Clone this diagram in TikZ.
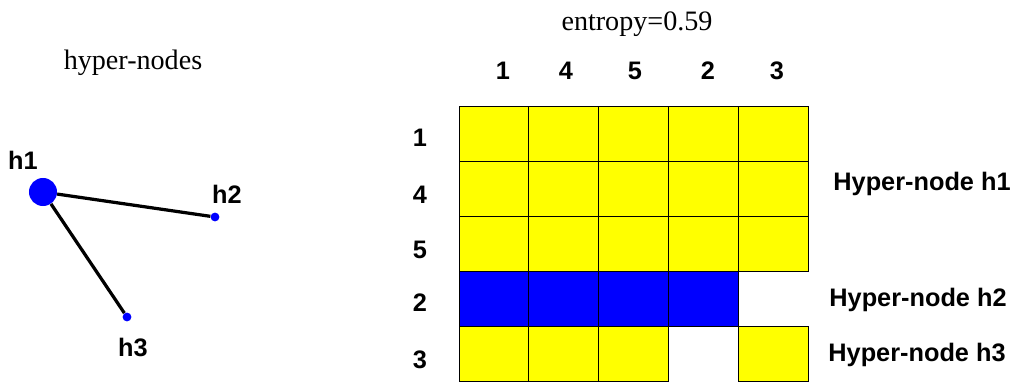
\documentclass[tikz,border=0pt]{standalone}
\usepackage{fontspec}
\setmainfont{Liberation Serif}
\setsansfont{Liberation Sans}
\usetikzlibrary{positioning}
\definecolor{cellyellow}{HTML}{FFFF00}
\definecolor{nodeblue}{HTML}{0000FF}

\begin{document}
\begin{tikzpicture}[x=0.025cm,y=-0.025cm,
  hub/.style={circle,fill=nodeblue,inner sep=0pt,minimum size=0.7cm},
  leaf/.style={circle,fill=nodeblue,inner sep=0pt,minimum size=0.22cm},
  lbl/.style={font=\sffamily\bfseries\fontsize{18}{21}\selectfont,inner sep=0pt},
  ttl/.style={font=\fontsize{20}{24}\selectfont,inner sep=0pt},
  edge/.style={draw=black,line width=2.3pt},
  cell/.style={draw=black,line width=0.6pt}
]
\useasboundingbox (0,0) rectangle (1018,381);
\clip (0,0) rectangle (1018,381);

% hyper-node graph
\node[ttl] (graphtitle) at (133,63) {hyper-nodes};
\node[hub] (h1) at (43,192) {};
\node[leaf] (h2) at (215,217) {};
\node[leaf] (h3) at (127,317) {};
\node[lbl] (h1lbl) at (23,160) {h1};
\node[lbl] (h2lbl) at (227,194) {h2};
\node[lbl] (h3lbl) at (133,347) {h3};
\draw[edge] (h1)--(h2);
\draw[edge] (h1)--(h3);

% block matrix
\node[ttl] (entropy) at (637,24) {entropy=0.59};
\foreach \r in {0,1,2}
  \foreach \c in {0,...,4}
    \filldraw[cell,fill=cellyellow] (459+69.8*\c,106+55*\r) rectangle ++(69.8,55);
\foreach \c in {0,...,3}
  \filldraw[cell,fill=nodeblue] (459+69.8*\c,271) rectangle ++(69.8,55);
\foreach \c in {0,1,2,4}
  \filldraw[cell,fill=cellyellow] (459+69.8*\c,326) rectangle ++(69.8,55);

\foreach \t/\x [count=\i] in {1/503,4/566,5/635,2/708,3/777}
  \node[lbl] (col\i) at (\x,71) {\t};
\foreach \t/\y [count=\i] in {1/138,4/195,5/250,2/303,3/360}
  \node[lbl] (row\i) at (420,\y) {\t};

\node[lbl] (hyp1) at (922,184) {Hyper-node h1};
\node[lbl] (hyp2) at (918,300) {Hyper-node h2};
\node[lbl] (hyp3) at (917,355) {Hyper-node h3};
\end{tikzpicture}
\end{document}
